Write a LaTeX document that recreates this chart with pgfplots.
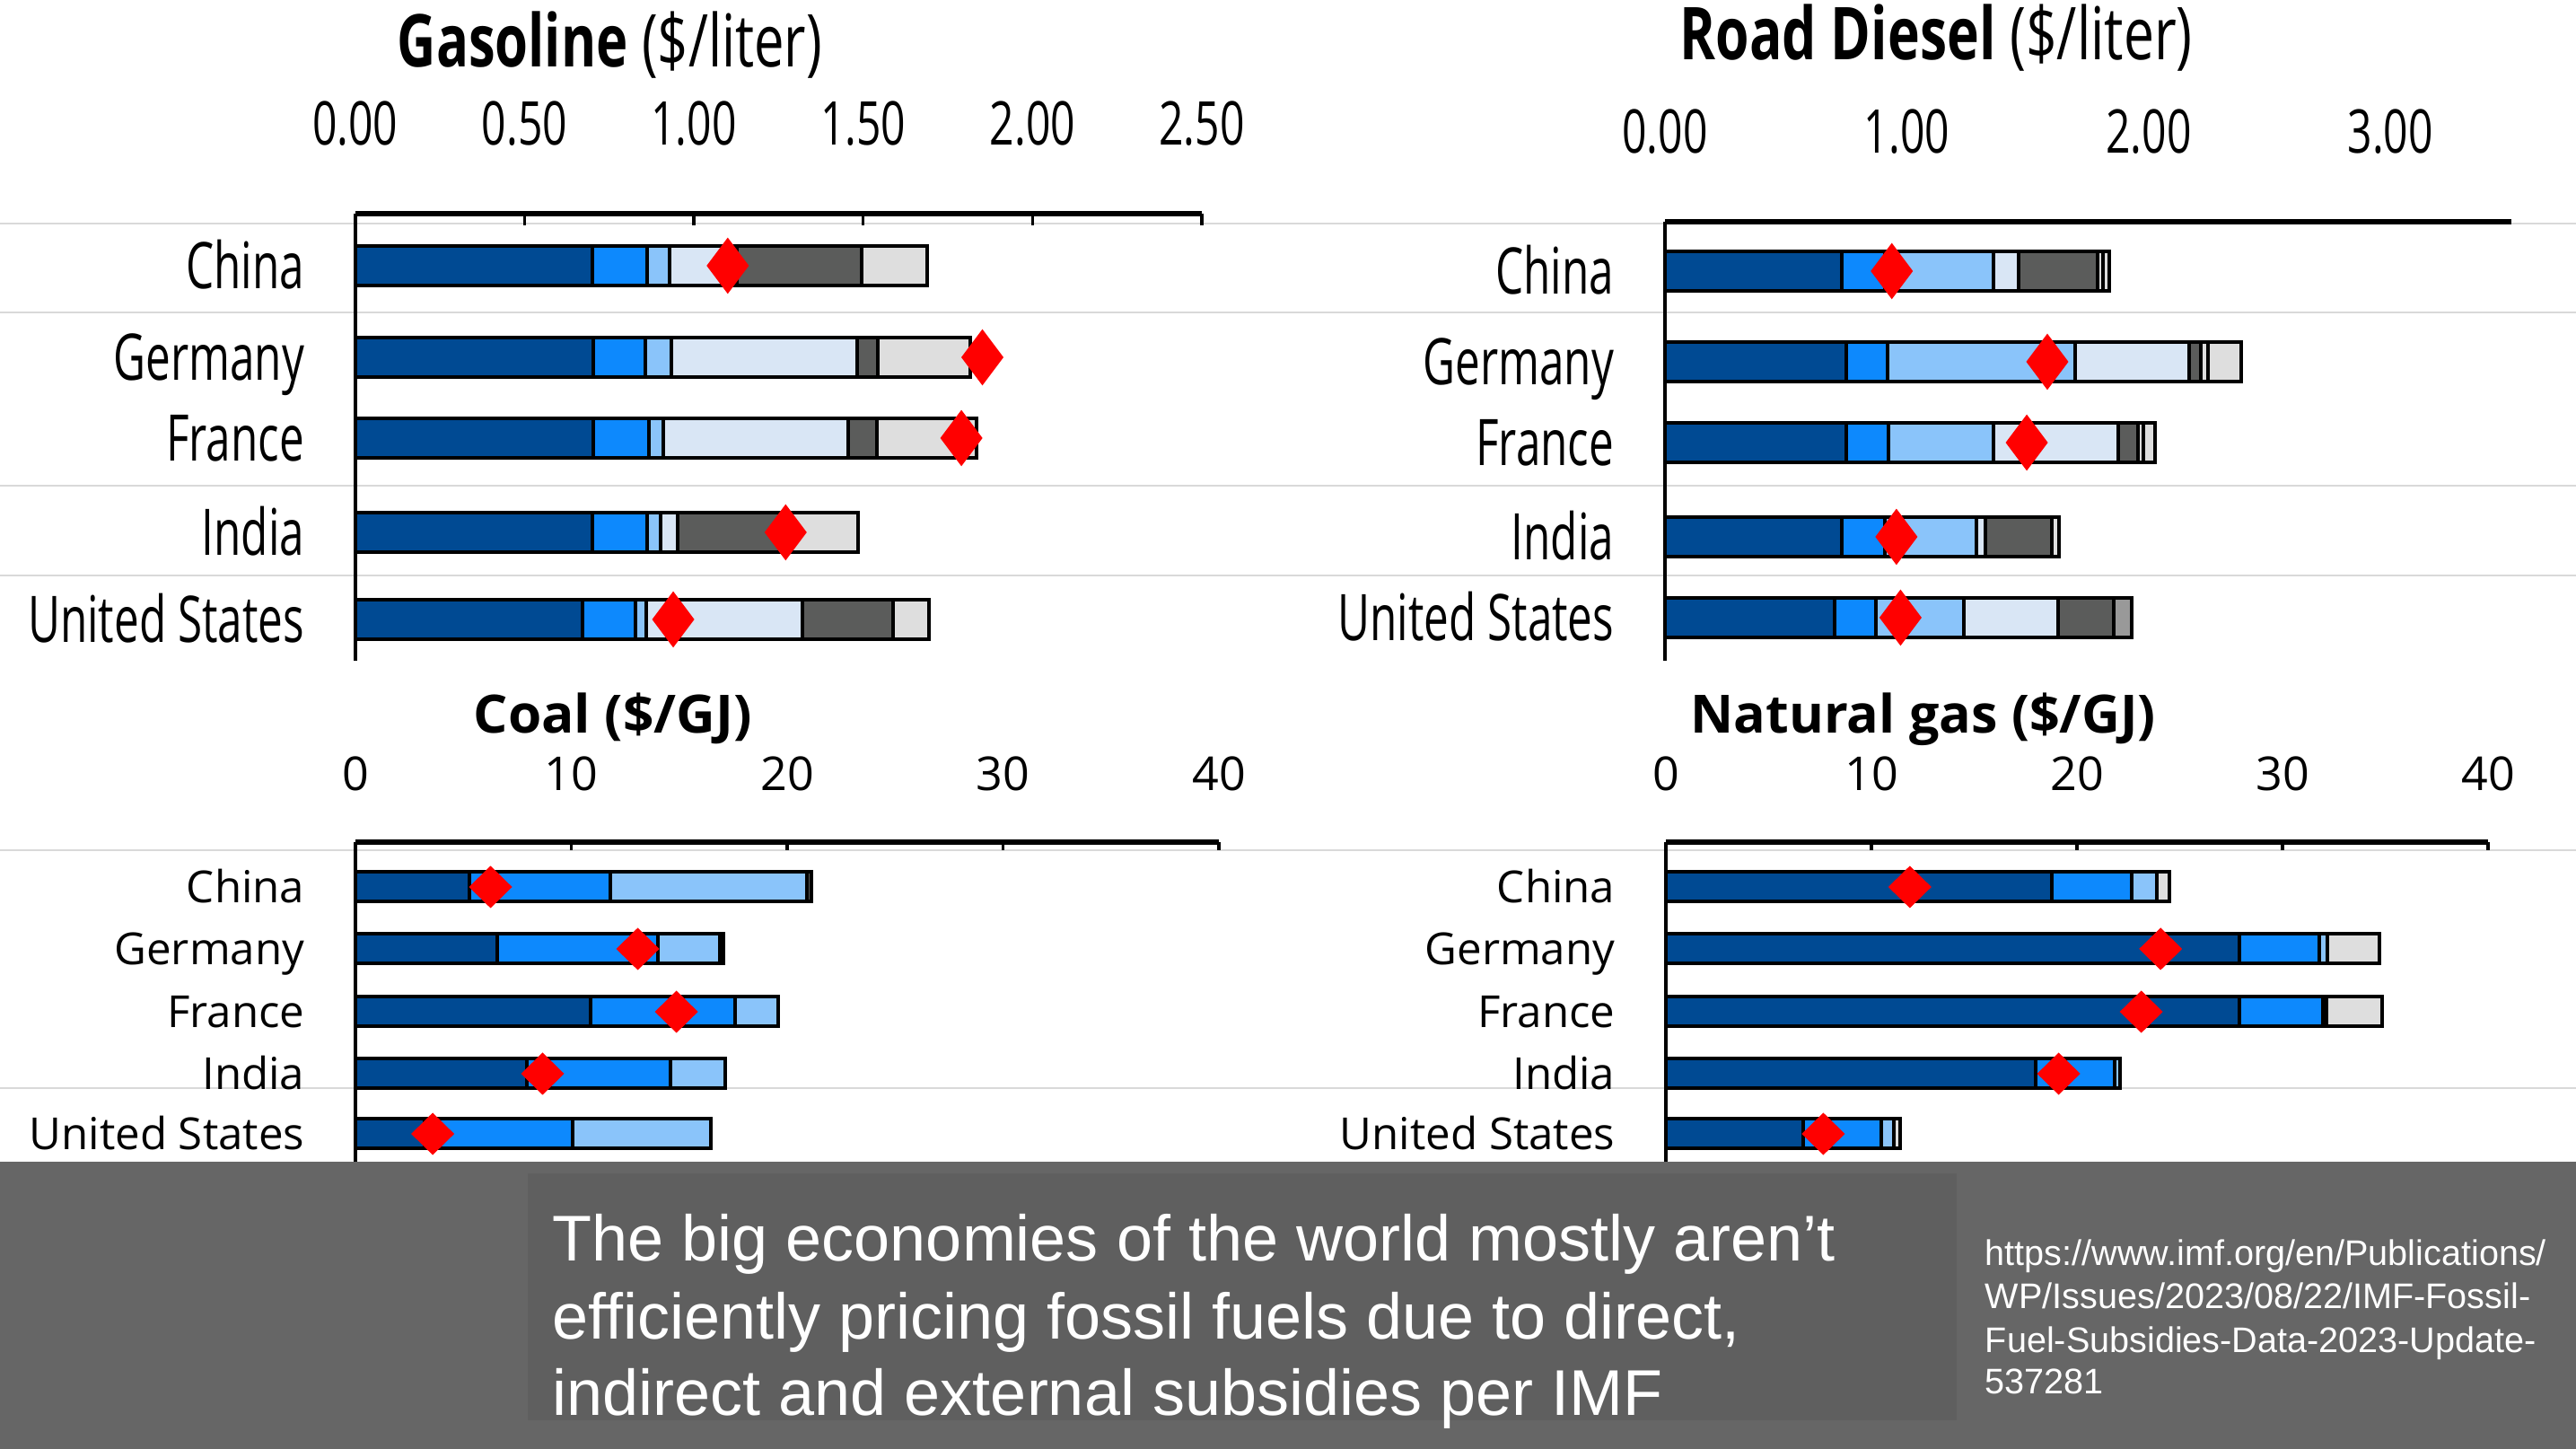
\documentclass[border=0pt]{standalone}
\usepackage{graphicx}
\usepackage{pgfplots}
\pgfplotsset{compat=1.18}
\usepackage{fontspec}
\setmainfont{Open Sans}
\newfontfamily\arialf{Liberation Sans}
\definecolor{cDB}{HTML}{004A93}
\definecolor{cBB}{HTML}{0D89FD}
\definecolor{cLB}{HTML}{8AC4FA}
\definecolor{cPB}{HTML}{D9E6F5}
\definecolor{cDG}{HTML}{5B5C5B}
\definecolor{cLG}{HTML}{DEDEDE}
\definecolor{cMG}{HTML}{999999}
\definecolor{bandc}{HTML}{666666}
\definecolor{boxc}{HTML}{5F5F5F}
\definecolor{sepc}{HTML}{D9D9D9}
\newcommand{\cx}[1]{\scalebox{0.69}[1]{#1}}
\newcommand{\ct}[1]{\scalebox{0.715}[1]{#1}}
\pgfplotsset{
  segT/.style={xbar, bar shift=0pt, bar width=44, fill=#1, draw=black, line width=1pt, forget plot},
  segB/.style={xbar, bar shift=0pt, bar width=33, fill=#1, draw=black, line width=1pt, forget plot},
  panel/.style={scale only axis, anchor=south west, clip=false,
    axis x line=top, axis y line=left,
    x axis line style={-, line width=1.3pt},
    y axis line style={-, line width=0.9pt},
    tick align=inside, ytick style={draw=none},
    xtick style={black, line width=0.8pt},
    /pgf/number format/assume math mode=true},
  toppanel/.style={panel, major tick length=3.25pt,
    ymin=-736,
    xticklabel style={anchor=south, inner sep=0pt, yshift=18.75pt, font=\fontsize{16.8}{20}\selectfont},
    yticklabel style={anchor=base east, inner sep=0pt, xshift=-14pt, yshift=-6.4pt, font=\fontsize{17.9}{20}\selectfont}},
  botpanel/.style={panel, major tick length=2.2pt,
    ymin=-1294, ymax=-938, xmin=0, xmax=40, xtick={0,10,20,30,40},
    ytick={-1263,-1196,-1127,-1057,-988},
    yticklabels={United States,India,France,Germany,China},
    xticklabel style={anchor=south, inner sep=0pt, yshift=14pt, font=\fontsize{13}{15}\selectfont},
    yticklabel style={anchor=base east, inner sep=0pt, xshift=-14pt, yshift=-4.4pt, font=\fontsize{12.3}{14}\selectfont}},
}
\begin{document}
\begin{tikzpicture}
\path[use as bounding box, fill=white] (0,0) rectangle (717.5pt,403.5pt);
\begin{scope}[x=0.25pt, y=-0.25pt, yshift=403.5pt]
  \foreach \yy in {249,348,541,641,947,1212} {
    \draw[sepc, line width=0.5pt] (0,\yy) -- (2870,\yy);
  }
\end{scope}

% Gasoline
\begin{axis}[toppanel, at={(98.95pt,219.5pt)}, width=235.8pt, height=124.5pt,
  xmin=0, xmax=2.5, ymax=-238,
  xtick={0,0.5,1,1.5,2,2.5},
  xticklabels={\ct{0.00},\ct{0.50},\ct{1.00},\ct{1.50},\ct{2.00},\ct{2.50}},
  ytick={-690,-593,-488,-398,-296},
  yticklabels={\cx{United States},\cx{India},\cx{France},\cx{Germany},\cx{China}}]
\addplot[segT=cLG] coordinates {(1.689,-296) (1.817,-398) (1.835,-488) (1.484,-593) (1.695,-690)};
\addplot[segT=cDG] coordinates {(1.496,-296) (1.543,-398) (1.540,-488) (1.280,-593) (1.589,-690)};
\addplot[segT=cPB] coordinates {(1.128,-296) (1.482,-398) (1.455,-488) (0.951,-593) (1.321,-690)};
\addplot[segT=cLB] coordinates {(0.927,-296) (0.933,-398) (0.909,-488) (0.902,-593) (0.860,-690)};
\addplot[segT=cBB] coordinates {(0.862,-296) (0.857,-398) (0.866,-488) (0.862,-593) (0.827,-690)};
\addplot[segT=cDB] coordinates {(0.701,-296) (0.704,-398) (0.704,-488) (0.701,-593) (0.671,-690)};
\addplot[only marks, mark=diamond*, mark size=7.5pt, color=red, mark options={draw=none, fill=red}]
  coordinates {(1.100,-296) (1.852,-398) (1.790,-488) (1.271,-593) (0.939,-690)};
\end{axis}

% Road diesel
\begin{axis}[toppanel, at={(463.75pt,219.5pt)}, width=235.75pt, height=122.25pt,
  xmin=0, xmax=3.5, ymax=-247, xtick style={draw=none},
  xtick={0,1,2,3},
  xticklabels={\ct{0.00},\ct{1.00},\ct{2.00},\ct{3.00}},
  ytick={-688,-598,-493,-403,-302},
  yticklabels={\cx{United States},\cx{India},\cx{France},\cx{Germany},\cx{China}}]
\addplot[segT=cMG] coordinates {(1.930,-688)};
\addplot[segT=cLG] coordinates {(1.839,-302) (2.381,-403) (2.027,-493) (1.630,-598)};
\addplot[segT=cLG] coordinates {(1.812,-302) (2.244,-403) (1.978,-493)};
\addplot[segT=cDG] coordinates {(1.790,-302) (2.215,-403) (1.955,-493) (1.601,-598) (1.855,-688)};
\addplot[segT=cPB] coordinates {(1.464,-302) (2.167,-403) (1.874,-493) (1.324,-598) (1.625,-688)};
\addplot[segT=cLB] coordinates {(1.359,-302) (1.697,-403) (1.359,-493) (1.287,-598) (1.236,-688)};
\addplot[segT=cBB] coordinates {(0.910,-302) (0.920,-403) (0.925,-493) (0.910,-598) (0.874,-688)};
\addplot[segT=cDB] coordinates {(0.732,-302) (0.748,-403) (0.748,-493) (0.732,-598) (0.700,-688)};
\addplot[only marks, mark=diamond*, mark size=7.5pt, color=red, mark options={draw=none, fill=red}]
  coordinates {(0.938,-302) (1.581,-403) (1.496,-493) (0.957,-598) (0.974,-688)};
\end{axis}

% Coal
\begin{axis}[botpanel, at={(99pt,80pt)}, width=240.5pt, height=89pt]
\addplot[segB=cDG] coordinates {(21.13,-988) (17.05,-1057)};
\addplot[segB=cLB] coordinates {(20.92,-988) (16.88,-1057) (19.60,-1127) (17.12,-1196) (16.48,-1263)};
\addplot[segB=cBB] coordinates {(11.82,-988) (14.00,-1057) (17.59,-1127) (14.58,-1196) (10.06,-1263)};
\addplot[segB=cDB] coordinates {(5.27,-988) (6.56,-1057) (10.89,-1127) (7.95,-1196) (3.20,-1263)};
\addplot[only marks, mark=diamond*, mark size=5.6pt, color=red, mark options={draw=none, fill=red, xscale=1.36}]
  coordinates {(6.26,-988) (13.08,-1057) (14.87,-1127) (8.67,-1196) (3.58,-1263)};
\end{axis}

% Natural gas
\begin{axis}[botpanel, at={(464pt,80pt)}, width=229pt, height=89pt]
\addplot[segB=cLG] coordinates {(24.49,-988) (34.70,-1057) (34.86,-1127) (11.40,-1263)};
\addplot[segB=cLB] coordinates {(23.88,-988) (32.20,-1057) (32.13,-1127) (22.08,-1196) (11.10,-1263)};
\addplot[segB=cBB] coordinates {(22.66,-988) (31.78,-1057) (31.96,-1127) (21.85,-1196) (10.47,-1263)};
\addplot[segB=cDB] coordinates {(18.76,-988) (27.92,-1057) (27.92,-1127) (17.99,-1196) (6.66,-1263)};
\addplot[only marks, mark=diamond*, mark size=5.6pt, color=red, mark options={draw=none, fill=red, xscale=1.36}]
  coordinates {(11.87,-988) (24.07,-1057) (23.13,-1127) (19.11,-1196) (7.66,-1263)};
\end{axis}

\begin{scope}[x=0.25pt, y=-0.25pt, yshift=403.5pt]
  % titles
  \node[anchor=base west, inner sep=0pt] at (442,75)
    {\resizebox{118.25pt}{\height}{\fontsize{20.3}{24}\selectfont\textbf{Gasoline} (\$/liter)}};
  \node[anchor=base west, inner sep=0pt] at (1871,67)
    {\resizebox{142.75pt}{\height}{\fontsize{20.3}{24}\selectfont\textbf{Road Diesel} (\$/liter)}};
  \node[anchor=base west, inner sep=0pt] at (527,817)
    {\resizebox{77.5pt}{\height}{\fontsize{14.7}{17}\selectfont\textbf{Coal (\$/GJ)}}};
  \node[anchor=base west, inner sep=0pt] at (1883,817)
    {\resizebox{129.5pt}{\height}{\fontsize{14.7}{17}\selectfont\textbf{Natural gas (\$/GJ)}}};
  % bottom band
  \fill[bandc] (0,1294) rectangle (2870,1614);
  \fill[boxc] (588,1307) rectangle (2180,1582);
  \begin{scope}[every node/.style={anchor=base west, inner sep=0pt, text=white}]
    \node[font=\arialf\fontsize{18.0}{21}\selectfont] at (615,1405) {The big economies of the world mostly aren’t};
    \node[font=\arialf\fontsize{18.0}{21}\selectfont] at (615,1492) {efficiently pricing fossil fuels due to direct,};
    \node[font=\arialf\fontsize{18.0}{21}\selectfont] at (615,1577) {indirect and external subsidies per IMF};
    \node[font=\arialf\fontsize{9.9}{11}\selectfont] at (2211,1410) {https://www.imf.org/en/Publications/};
    \node[font=\arialf\fontsize{9.9}{11}\selectfont] at (2211,1458) {WP/Issues/2023/08/22/IMF-Fossil-};
    \node[font=\arialf\fontsize{9.9}{11}\selectfont] at (2211,1507) {Fuel-Subsidies-Data-2023-Update-};
    \node[font=\arialf\fontsize{9.9}{11}\selectfont] at (2211,1553) {537281};
  \end{scope}
\end{scope}
\end{tikzpicture}
\end{document}
